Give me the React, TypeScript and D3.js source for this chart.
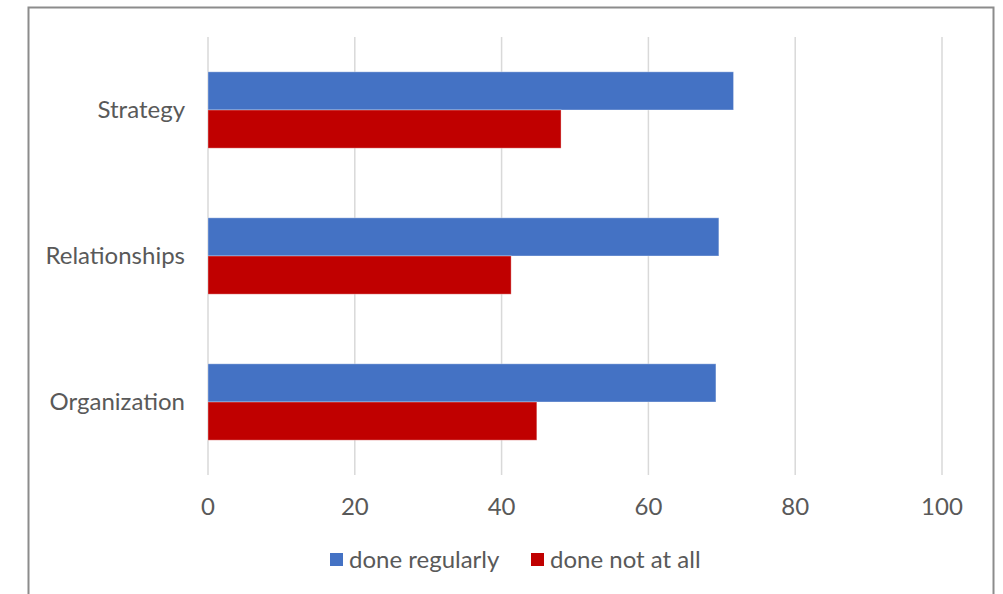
import React from "react";
import * as d3 from "d3";

const categories = ["Strategy", "Relationships", "Organization"];
const seriesNames = ["done regularly", "done not at all"];
const doneRegularly = [71.6, 69.6, 69.2];
const doneNotAtAll = [48.1, 41.3, 44.8];
const xTicks = [0, 20, 40, 60, 80, 100];
const colors = ["#4472C4", "#C00000"];

const W = 1003;
const H = 594;
const FONT = "Lato, 'Open Sans', sans-serif";
const TEXT = "#595959";
const FS = 24;

export default function App() {
  const x = d3.scaleLinear().domain([0, 100]).range([208, 942]);
  const y = d3.scaleBand().domain(categories).range([37, 475]).paddingInner(0.477).paddingOuter(0.2385);
  const sub = d3.scaleBand().domain(seriesNames).range([0, y.bandwidth()]);
  const series = [doneRegularly, doneNotAtAll];

  return (
    <svg width={W} height={H} style={{ position: "absolute", left: 0, top: 0 }} fontFamily={FONT}>
      <rect x={0} y={0} width={W} height={H} fill="#fff" />
      <rect x={28.5} y={7.5} width={965} height={620} fill="none" stroke="#8c8c8c" strokeWidth={2} />
      {xTicks.map((t) => (
        <line key={t} x1={x(t)} x2={x(t)} y1={37} y2={475} stroke="#d9d9d9" strokeWidth={1.5} />
      ))}
      {categories.map((c, i) => (
        <g key={c}>
          {series.map((s, k) => (
            <rect
              key={k}
              x={x(0)}
              y={(y(c) as number) + (sub(seriesNames[k]) as number)}
              width={x(s[i]) - x(0)}
              height={sub.bandwidth()}
              fill={colors[k]}
              stroke="rgba(255,255,255,0.35)"
              strokeWidth={1}
            />
          ))}
          <text
            x={185}
            y={(y(c) as number) + y.bandwidth() / 2 - 2}
            textAnchor="end"
            dominantBaseline="central"
            fontSize={FS}
            fill={TEXT}
          >
            {c}
          </text>
        </g>
      ))}
      {xTicks.map((t) => (
        <text key={t} x={x(t)} y={505.5} textAnchor="middle" dominantBaseline="central" fontSize={FS} fill={TEXT}>
          {t}
        </text>
      ))}
      <g>
        <rect x={330} y={553} width={13} height={13} fill={colors[0]} />
        <text x={349} y={558.5} dominantBaseline="central" fontSize={FS} fill={TEXT}>
          {seriesNames[0]}
        </text>
        <rect x={531} y={553} width={13} height={13} fill={colors[1]} />
        <text x={550} y={558.5} dominantBaseline="central" fontSize={FS} fill={TEXT}>
          {seriesNames[1]}
        </text>
      </g>
    </svg>
  );
}
